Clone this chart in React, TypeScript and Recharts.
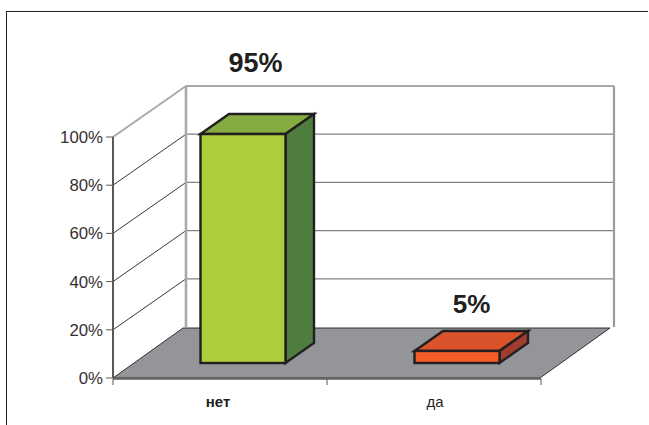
import { BarChart, Bar, XAxis, YAxis, ReferenceLine, LabelList } from 'recharts';

const categories = ['нет', 'да'];
const shares = [95, 5];
const yTicks = [0, 20, 40, 60, 80, 100];

const frontColors = ['#adcd3a', '#f35c25'];
const topColors = ['#86ab40', '#db532a'];
const sideColors = ['#4e7d3f', '#a13b2e'];
const labelNudges = [
  { dx: 35, dy: -77, size: 27 },
  { dx: 37, dy: -53, size: 26 },
];

// 3D projection of the box: wall depth, bar offset from the front edge, bar depth
const PLOT_HEIGHT = 241;
const WALL_DX = 73;
const WALL_DY = -51;
const FACE_DX = 22.5;
const FACE_DY = -15;
const BAR_DX = 28.5;
const BAR_DY = -20;
const INK = '#231f20';
const BEHIND_BARS = 50;

const chartData = categories.map((name, i) => ({ name, share: shares[i] }));

function pts(list: number[][]) {
  return list.map((p) => p.join(',')).join(' ');
}

// One gridline: runs back along the side wall, then across the back wall
function WallLine(props: any) {
  const { x1, y1, x2 } = props;
  const backX = x1 + WALL_DX;
  const backY = y1 + WALL_DY;
  return (
    <g>
      <line x1={x1} y1={y1} x2={backX} y2={backY} stroke={INK} strokeWidth={0.9} />
      <line x1={backX} y1={backY} x2={x2 + WALL_DX} y2={backY} stroke="#808285" strokeWidth={1.2} />
    </g>
  );
}

// Top of the box plus the two grey uprights of the back wall
function WallTop(props: any) {
  const { x1, y1, x2 } = props;
  const backX = x1 + WALL_DX;
  const backRight = x2 + WALL_DX;
  const backY = y1 + WALL_DY;
  const floorY = backY + PLOT_HEIGHT;
  return (
    <g fill="none" stroke="#a7a9ac">
      <line x1={x1} y1={y1} x2={backX} y2={backY} strokeWidth={2} />
      <line x1={backX} y1={backY} x2={backRight} y2={backY} strokeWidth={2.2} />
      <line x1={backX} y1={backY} x2={backX} y2={floorY} strokeWidth={2.6} />
      <line x1={backRight} y1={backY} x2={backRight} y2={floorY} strokeWidth={2.2} stroke="#999b9e" />
    </g>
  );
}

// Floor of the box with the category tick marks on its front edge
function Floor(props: any) {
  const { x1, y1, x2 } = props;
  const backY = y1 + WALL_DY;
  const mid = (x1 + x2) / 2;
  return (
    <g>
      <polygon
        points={pts([
          [x1, y1],
          [x1 + WALL_DX - 3, backY + 1],
          [x2 + WALL_DX - 4, backY + 1],
          [x2 - 1, y1],
        ])}
        fill="#939598"
        stroke={INK}
        strokeWidth={0.9}
      />
      <line x1={x1} y1={y1 + 1} x2={x2} y2={y1 + 1} stroke="#58595b" strokeWidth={1.6} />
      {[x1, mid, x2].map((x: number) => (
        <line key={x} x1={x} y1={y1 + 1} x2={x} y2={y1 + 7} stroke="#58595b" strokeWidth={1} />
      ))}
    </g>
  );
}

function Box(props: any) {
  const { x, y, width, height, index } = props;
  const left = x + FACE_DX;
  const right = left + width;
  const top = y + FACE_DY;
  const bottom = top + height;
  return (
    <g stroke={INK} strokeWidth={2.4} strokeLinejoin="miter">
      <polygon
        points={pts([
          [left, top],
          [left + BAR_DX, top + BAR_DY],
          [right + BAR_DX, top + BAR_DY],
          [right, top],
        ])}
        fill={topColors[index]}
      />
      <polygon
        points={pts([
          [right, top],
          [right + BAR_DX, top + BAR_DY],
          [right + BAR_DX, bottom + BAR_DY],
          [right, bottom],
        ])}
        fill={sideColors[index]}
      />
      <rect x={left} y={top} width={width} height={height} fill={frontColors[index]} />
    </g>
  );
}

function ShareLabel(props: any) {
  const { x, y, width, value, index } = props;
  const nudge = labelNudges[index];
  return (
    <text
      x={x + width / 2 + nudge.dx}
      y={y + nudge.dy}
      textAnchor="middle"
      fontFamily="Liberation Sans"
      fontWeight="bold"
      fontSize={nudge.size}
      fill={INK}
    >
      {value}%
    </text>
  );
}

function CategoryTick(props: any) {
  const { x, y, payload, index } = props;
  return (
    <text
      x={index === 0 ? x - 2 : x + 1}
      y={y}
      textAnchor="middle"
      fontFamily="Liberation Sans"
      fontSize={15}
      fontWeight={index === 0 ? 'bold' : 'normal'}
      fill={INK}
    >
      {payload.value}
    </text>
  );
}

export default function App() {
  return (
    <div style={{ position: 'absolute', left: 0, top: 0, width: 649, height: 425, overflow: 'hidden', background: '#fff' }}>
      <div
        style={{
          position: 'absolute',
          left: 6,
          top: 11,
          right: 1,
          bottom: 0,
          borderTop: `1px solid ${INK}`,
          borderLeft: `1px solid ${INK}`,
        }}
      />
      <div style={{ position: 'absolute', left: 0, top: 0 }}>
        <BarChart
          width={649}
          height={425}
          data={chartData}
          margin={{ top: 137, right: 108, bottom: 0, left: 0 }}
          barSize={85}
        >
          <XAxis
            dataKey="name"
            height={47}
            axisLine={false}
            tickLine={false}
            tickMargin={23}
            interval={0}
            tick={<CategoryTick />}
          />
          <YAxis
            width={113}
            domain={[0, 100]}
            ticks={yTicks}
            interval={0}
            tickFormatter={(v: number) => `${v}%`}
            tick={{ fontFamily: 'Liberation Sans', fontSize: 16.8, fill: '#333132' }}
            tickSize={7}
            tickMargin={3}
            axisLine={{ stroke: '#58595b', strokeWidth: 2 }}
            tickLine={{ stroke: '#58595b', strokeWidth: 1 }}
          />
          {yTicks.slice(1, -1).map((t) => (
            <ReferenceLine key={t} y={t} ifOverflow="visible" shape={WallLine} zIndex={BEHIND_BARS} />
          ))}
          <ReferenceLine y={100} ifOverflow="visible" shape={WallTop} zIndex={BEHIND_BARS} />
          <ReferenceLine y={0} ifOverflow="visible" shape={Floor} zIndex={BEHIND_BARS} />
          <Bar dataKey="share" isAnimationActive={false} shape={Box}>
            <LabelList dataKey="share" content={ShareLabel} />
          </Bar>
        </BarChart>
      </div>
    </div>
  );
}
